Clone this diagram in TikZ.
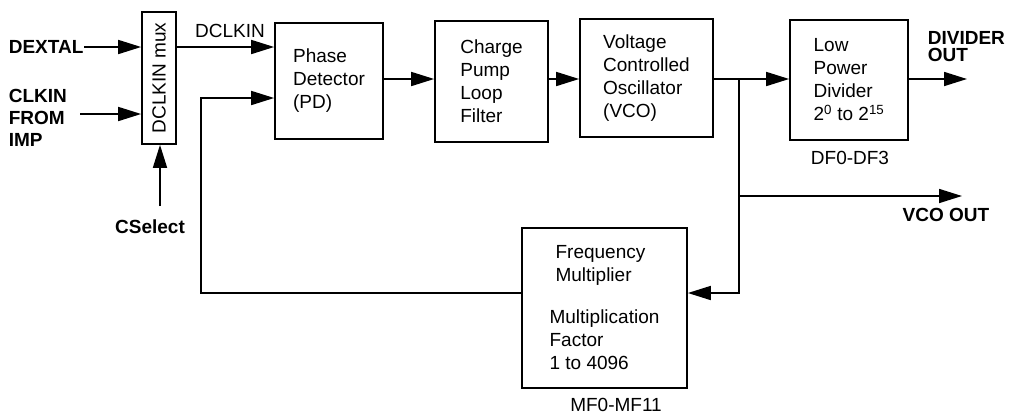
\documentclass[tikz,border=0pt]{standalone}
\usepackage{fontspec}
\setmainfont{Liberation Sans}
\usepackage{graphicx}
\usetikzlibrary{arrows.meta,positioning}

\begin{document}
\begin{tikzpicture}[x=1pt, y=-1pt, line width=1.7pt,
  >={Triangle[length=23pt, width=14pt]},
  blk/.style={draw, align=left, inner sep=0pt, font=\fontsize{19}{23}\selectfont},
  lbl/.style={inner sep=0pt, align=left, font=\fontsize{19}{23}\selectfont},
  sig/.style={inner sep=0pt, align=left, font=\fontsize{19}{22}\selectfont\bfseries}]
\path[use as bounding box] (0,0) rectangle (1018,416);
% blocks
\node[blk, minimum width=34pt, minimum height=132pt] (mux) at (159,78) {\rotatebox{90}{DCLKIN mux}};
\node[blk, minimum width=108pt, minimum height=116pt] (pd) at (329,81) {Phase\\Detector\\(PD)};
\node[blk, minimum width=113pt, minimum height=121pt] (cp) at (491.5,81.5) {Charge\\Pump\\Loop\\Filter};
\node[blk, minimum width=133pt, minimum height=118pt] (vco) at (646.5,78) {Voltage\\Controlled\\Oscillator\\(VCO)};
\node[blk, minimum width=118pt, minimum height=120pt] (div) at (849,80) {Low\\Power\\Divider\\2\textsuperscript{0} to 2\textsuperscript{15}};
\node[blk, minimum width=165pt, minimum height=160pt] (mf) at (604.5,308) {\hspace*{6pt}Frequency\\\hspace*{6pt}Multiplier\\[19pt]Multiplication\\Factor\\1 to 4096};
% signal names
\node[sig, anchor=west] (dextal) at (8,47) {DEXTAL};
\node[sig, anchor=west] (clkin) at (8,118) {CLKIN\\FROM\\IMP};
\node[sig] (csel) at (150,227) {CSelect};
\node[sig, anchor=west, font=\fontsize{19}{17}\selectfont\bfseries] (divout) at (927,47) {DIVIDER\\OUT};
\node[sig] (vcoout) at (946,215) {VCO OUT};
\node[lbl] (dclkin) at (230,31) {DCLKIN};
\node[lbl] (dfsel) at (850,158) {DF0-DF3};
\node[lbl] (mfsel) at (616,405) {MF0-MF11};
% free ends
\coordinate (clkstart) at (80,114);
\coordinate (selstart) at (160,206);
\coordinate (br) at (739,79);
\coordinate (divend) at (967,79);
\coordinate (vcoend) at (962,196);
\coordinate (fb) at (201,293);
% connectors
\draw[->] (dextal.east) -- (dextal -| mux.west);
\draw[->] (clkstart) -- (clkstart -| mux.west);
\draw[->] (selstart) -- (selstart |- mux.south);
\draw[->] (mux.east |- dextal) -- (dextal -| pd.west);
\draw[->] (pd.east |- br) -- (br -| cp.west);
\draw[->] (cp.east |- br) -- (br -| vco.west);
\draw (vco.east |- br) -- (br);
\draw[->] (br) -- (br -| div.west);
\draw[->] (div.east |- divend) -- (divend);
\draw[->] (br) -- (br |- fb) -- (fb -| mf.east);
\draw[->] (br |- vcoend) -- (vcoend);
\draw[->] (fb -| mf.west) -- (fb) -- (fb |- 0,98) -- (pd.west |- 0,98);
\end{tikzpicture}
\end{document}
